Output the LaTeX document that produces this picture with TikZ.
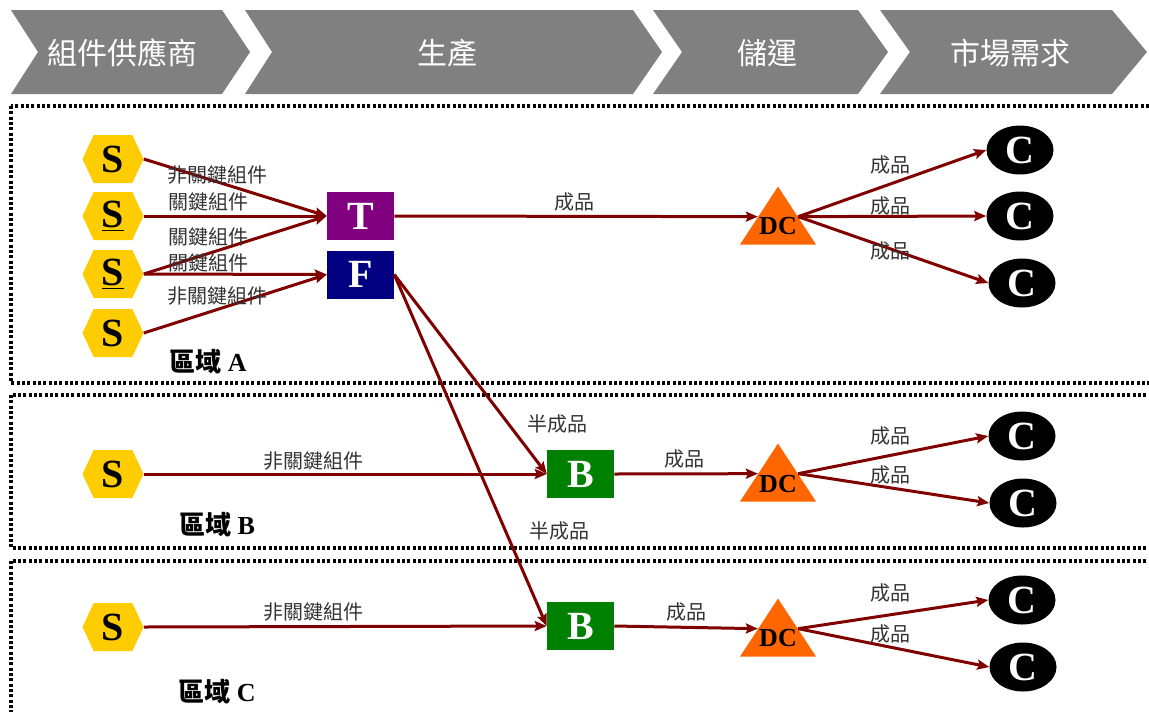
\documentclass[tikz,border=0pt]{standalone}
\usepackage{fontspec}
\setmainfont{Liberation Serif}
\newfontfamily\cjk{Noto Sans CJK TC}
\usetikzlibrary{shapes.geometric,shapes.symbols,arrows.meta}

\definecolor{stagegray}{RGB}{128,128,128}
\definecolor{flowred}{RGB}{128,0,0}
\definecolor{suppyellow}{RGB}{255,204,0}
\definecolor{dcorange}{RGB}{255,102,0}
\definecolor{tpurple}{RGB}{128,0,128}
\definecolor{fnavy}{RGB}{0,0,128}
\definecolor{bgreen}{RGB}{0,128,0}

\tikzset{
  stage/.style={fill=stagegray, draw=none},
  stagetext/.style={text=white, font=\cjk\fontsize{22.5}{22.5}\selectfont, inner sep=0pt},
  region/.style={draw=black, line width=2.5pt, dash pattern=on 2.2pt off 1.8pt},
  supplier/.style={signal, signal to=east and west, signal pointer angle=130, fill=suppyellow,
    minimum width=45.75pt, minimum height=36pt, inner sep=0pt, font=\fontsize{30}{30}\selectfont\bfseries},
  plant/.style={minimum width=50.25pt, minimum height=36pt, inner sep=0pt, text=white,
    font=\fontsize{30}{30}\selectfont\bfseries},
  dc/.style={isosceles triangle, isosceles triangle stretches, shape border rotate=90, fill=dcorange,
    minimum width=57pt, minimum height=43.5pt, inner sep=0pt},
  dctext/.style={font=\fontsize{19.5}{19.5}\selectfont\bfseries, inner sep=0pt},
  customer/.style={ellipse, fill=black, text=white, minimum width=50.25pt, minimum height=36.75pt,
    inner sep=0pt, font=\fontsize{30}{30}\selectfont\bfseries},
  flow/.style={draw=flowred, line width=2.25pt, -{Stealth[length=9pt,width=7.5pt,inset=1.5pt]}},
  lbl/.style={text=black!80, font=\cjk\fontsize{15}{15}\selectfont, inner sep=0pt},
  zone/.style={font=\fontsize{19.5}{19.5}\selectfont\bfseries, inner sep=0pt},
}

\begin{document}
\begin{tikzpicture}[x=0.75pt,y=0.75pt,yscale=-1,xscale=1]
\clip (0,0) rectangle (1149,711);

% stage banner
\fill[stage] (11,10) -- (222,10) -- (250,52) -- (222,94) -- (11,94) -- (38,52) -- cycle;
\fill[stage] (245,10) -- (633,10) -- (662,52) -- (633,94) -- (245,94) -- (272,52) -- cycle;
\fill[stage] (653,10) -- (858,10) -- (888,52) -- (858,94) -- (653,94) -- (682,52) -- cycle;
\fill[stage] (880,10) -- (1112,10) -- (1147,52) -- (1112,94) -- (880,94) -- (910,52) -- cycle;
\node[stagetext] (hdSupply) at (122,53) {組件供應商};
\node[stagetext] (hdMake) at (447,53) {生產};
\node[stagetext] (hdStore) at (767,53) {儲運};
\node[stagetext] (hdMarket) at (1010,53) {市場需求};

% regions
\draw[region] (11,106) rectangle (1175,383);
\draw[region] (11,395) rectangle (1175,548);
\draw[region] (11,561) rectangle (1175,730);
\node[zone] (zoneA) at (208,362) {{\cjk 區域} A};
\node[zone] (zoneB) at (217,525) {{\cjk 區域} B};
\node[zone] (zoneC) at (217,692) {{\cjk 區域} C};

% region A
\node[supplier] (sA1) at (113,159) {S};
\node[supplier] (sA2) at (113,216) {\underline{S}};
\node[supplier] (sA3) at (113,274) {\underline{S}};
\node[supplier] (sA4) at (113,333) {S};
\node[plant, fill=tpurple] (t) at (360.5,216) {T};
\node[plant, fill=fnavy] (f) at (360.5,274.5) {F};
\node[dc] (dcA) at (778,224) {};
\node[dctext] (dcAtxt) at (778,226) {DC};
\node[customer] (cA1) at (1020,150) {C};
\node[customer] (cA2) at (1020,216) {C};
\node[customer] (cA3) at (1022,283) {C};

% region B
\node[supplier] (sB) at (113,474) {S};
\node[plant, fill=bgreen] (bB) at (580.5,474) {B};
\node[dc] (dcB) at (778,481) {};
\node[dctext] (dcBtxt) at (778,484) {DC};
\node[customer] (cB1) at (1022,436) {C};
\node[customer] (cB2) at (1023,503) {C};

% region C
\node[supplier] (sC) at (113,627) {S};
\node[plant, fill=bgreen] (bC) at (580.5,626) {B};
\node[dc] (dcC) at (778,636) {};
\node[dctext] (dcCtxt) at (778,638) {DC};
\node[customer] (cC1) at (1022,600) {C};
\node[customer] (cC2) at (1023,667) {C};

% flows
\draw[flow] (sA1.east) -- (t.west);
\draw[flow] (sA2.east) -- (t.west);
\draw[flow] (sA3.east) -- (t.west);
\draw[flow] (sA3.east) -- (f.west);
\draw[flow] (sA4.east) -- (f.west);
\draw[flow] (t.east) -- (dcA.160);
\draw[flow] (dcA.20) -- (cA1.west);
\draw[flow] (dcA.20) -- (cA2.west);
\draw[flow] (dcA.20) -- (cA3.west);
\draw[flow] (f.east) -- (bB.west);
\draw[flow] (f.east) -- (bC.west);
\draw[flow] (sB.east) -- (bB.west);
\draw[flow] (bB.east) -- (dcB.160);
\draw[flow] (dcB.20) -- (cB1.west);
\draw[flow] (dcB.20) -- (cB2.west);
\draw[flow] (sC.east) -- (bC.west);
\draw[flow] (bC.east) -- (dcC.160);
\draw[flow] (dcC.20) -- (cC1.west);
\draw[flow] (dcC.20) -- (cC2.west);

% flow labels
\node[lbl] (lA1) at (217,175) {非關鍵組件};
\node[lbl] (lA2) at (208,202) {關鍵組件};
\node[lbl] (lA3) at (208,237) {關鍵組件};
\node[lbl] (lA4) at (208,263) {關鍵組件};
\node[lbl] (lA5) at (217,296) {非關鍵組件};
\node[lbl] (lA6) at (574,202) {成品};
\node[lbl] (lA7) at (890,165) {成品};
\node[lbl] (lA8) at (890,206) {成品};
\node[lbl] (lA9) at (890,251) {成品};
\node[lbl] (lB1) at (313,461) {非關鍵組件};
\node[lbl] (lB2) at (557,424) {半成品};
\node[lbl] (lB3) at (684,459) {成品};
\node[lbl] (lB4) at (890,436) {成品};
\node[lbl] (lB5) at (890,475) {成品};
\node[lbl] (lC1) at (313,612) {非關鍵組件};
\node[lbl] (lC2) at (559,531) {半成品};
\node[lbl] (lC3) at (686,612) {成品};
\node[lbl] (lC4) at (890,593) {成品};
\node[lbl] (lC5) at (890,634) {成品};

\end{tikzpicture}
\end{document}
